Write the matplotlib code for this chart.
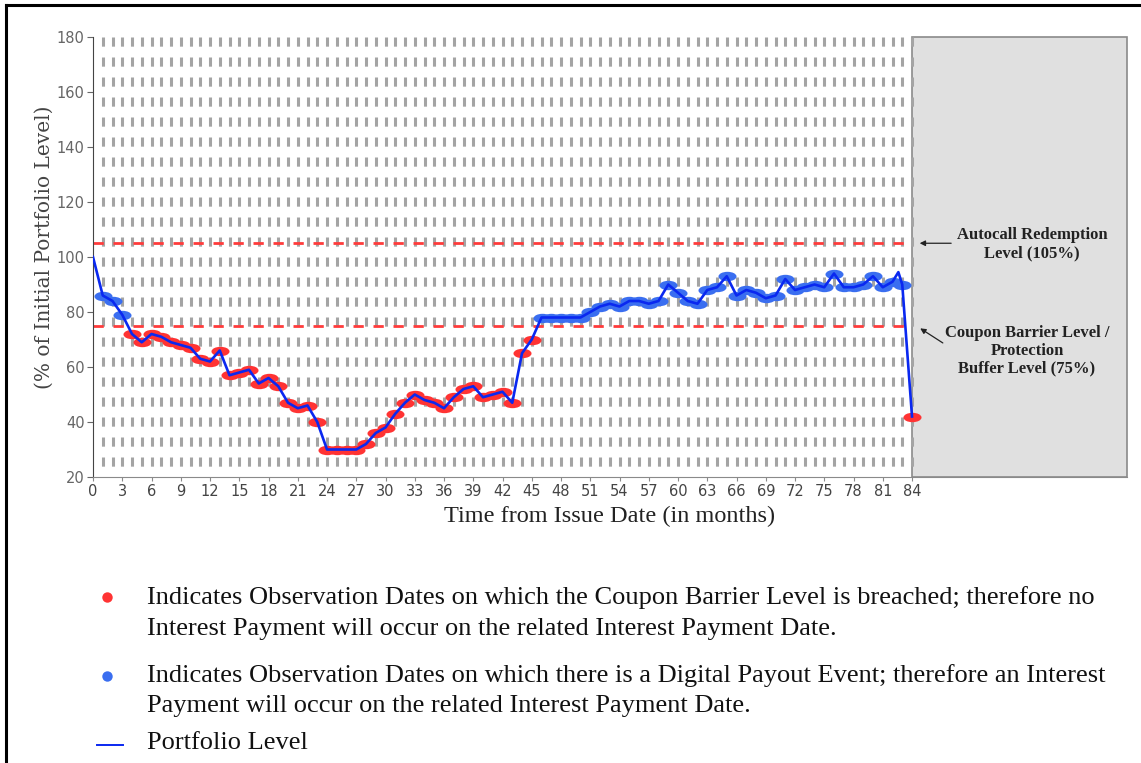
import numpy as np
import matplotlib
matplotlib.use('agg')
import matplotlib.pyplot as plt
from matplotlib.path import Path
from matplotlib.lines import Line2D
import matplotlib.transforms as mtrans

plt.rcParams['lines.scale_dashes'] = False

# observation levels (% of initial portfolio level), months 1..84
obs_months = list(range(1, 85))
obs_levels = [86, 84, 79, 72, 69, 72, 71, 69, 68, 67,
              63, 62, 66, 57, 58, 59, 54, 56, 53, 47,
              45, 46, 40, 30, 30, 30, 30, 32, 36, 38,
              43, 47, 50, 48, 47, 45, 49, 52, 53, 49,
              50, 51, 47, 65, 70, 78, 78, 78, 78, 78,
              80, 82, 83, 82, 84, 84, 83, 84, 90, 87,
              84, 83, 88, 89, 93, 86, 88, 87, 85, 86,
              92, 88, 89, 90, 89, 94, 89, 89, 90, 93,
              89, 91, 90, 42]
start_level = 100
peak_month, peak_level = 82.6, 94.5   # intramonth spike before maturity

barrier = 75
autocall = 105
maturity = 84
x_ticks = list(range(0, 85, 3))
y_ticks = list(range(20, 181, 20))

W, H = 1141, 763
fig = plt.figure(figsize=(W / 100, H / 100), dpi=100)
x0, x1, ytop, ybot = 93, 1127, 37, 477
ax = fig.add_axes([x0 / W, 1 - ybot / H, (x1 - x0) / W, (ybot - ytop) / H])

xmax = 106.05
ax.set_xlim(0, xmax)
ax.set_ylim(20, 180)

# shaded post-maturity region
ax.add_patch(plt.Rectangle((maturity, 20), xmax - maturity, 160, facecolor='#e0e0e0',
                           edgecolor='#8a8a8a', lw=1.2, zorder=0.5, clip_on=False))

# vertical dashed month lines
for m in obs_months:
    ax.plot([m, m], [180, 20], color='#a4a4a4', lw=2.2, dashes=(6.6, 7.8), zorder=1)

# barrier lines
for lvl in (autocall, barrier):
    ax.plot([0, maturity], [lvl, lvl], color='#ff3b3b', lw=2.0, dashes=(7.4, 7.0), zorder=1.5)

# ellipse markers
ell = Path.unit_circle().transformed(mtrans.Affine2D().scale(1, 0.52))
colors = ['#ff3333' if v < barrier else '#3a6ef0' for v in obs_levels]
for m, v, c in zip(obs_months, obs_levels, colors):
    ax.plot(m, v, marker=ell, ms=13, color=c, mec='none', ls='none', zorder=2)

# portfolio line
line_x = [0] + obs_months[:82] + [peak_month] + obs_months[82:]
line_y = [start_level] + obs_levels[:82] + [peak_level] + obs_levels[82:]
ax.plot(line_x, line_y, color='#0a28f0', lw=1.9, zorder=3)

for s in ('top', 'right'):
    ax.spines[s].set_visible(False)
ax.spines['left'].set_color('#444444')
ax.spines['bottom'].set_color('#8a8a8a')
ax.spines['bottom'].set_bounds(0, xmax)
ax.set_xticks(x_ticks)
ax.set_yticks(y_ticks)
ax.tick_params(axis='x', colors='#8a8a8a', labelcolor='#444444', length=3, pad=2, labelsize=10.5)
ax.tick_params(axis='y', colors='#666666', labelcolor='#666666', length=4, pad=2, labelsize=10.5)

ax.set_ylabel('(% of Initial Portfolio Level)', family='DejaVu Serif', fontsize=14.5,
              color='#444444')
ax.yaxis.set_label_coords(-0.038, 0.523)
ax.set_xlabel('Time from Issue Date (in months)', family='Liberation Serif', fontsize=17.5,
              color='#222222', labelpad=5)

# annotations
ann_font = dict(family='Liberation Serif', fontweight='bold', fontsize=12, color='#222222',
                ha='center', va='center', linespacing=1.15)
ax.annotate('', xy=(84.5, autocall), xytext=(88.3, autocall),
            arrowprops=dict(arrowstyle='-|>', color='#222222', lw=0.9, mutation_scale=8))
ax.text(96.3, 104.6, 'Autocall Redemption\nLevel (105%)', **ann_font)
ax.annotate('', xy=(84.6, 74.6), xytext=(87.4, 68.2),
            arrowprops=dict(arrowstyle='-|>', color='#222222', lw=0.9, mutation_scale=8))
ax.text(95.8, 65.8, 'Coupon Barrier Level /\nProtection\nBuffer Level (75%)', **ann_font)

# legend block below the chart
leg_font = dict(family='Liberation Serif', fontsize=19, color='#111111', va='center')
fig.text(147 / W, 1 - 598 / H, 'Indicates Observation Dates on which the Coupon Barrier Level is breached; therefore no', **leg_font)
fig.text(147 / W, 1 - 629 / H, 'Interest Payment will occur on the related Interest Payment Date.', **leg_font)
fig.text(147 / W, 1 - 676 / H, 'Indicates Observation Dates on which there is a Digital Payout Event; therefore an Interest', **leg_font)
fig.text(147 / W, 1 - 706 / H, 'Payment will occur on the related Interest Payment Date.', **leg_font)
fig.text(147 / W, 1 - 743 / H, 'Portfolio Level', **leg_font)
fig.add_artist(Line2D([107 / W], [1 - 597 / H], marker='o', ms=7.5, color='#ff3333', mec='none'))
fig.add_artist(Line2D([107 / W], [1 - 676 / H], marker='o', ms=7.5, color='#3a6ef0', mec='none'))
fig.add_artist(Line2D([97 / W, 123 / W], [1 - 745 / H, 1 - 745 / H], color='#0a28f0', lw=1.4))

# outer frame (top and left edges)
fig.add_artist(Line2D([6 / W, 1], [1 - 5 / H, 1 - 5 / H], color='black', lw=2.2))
fig.add_artist(Line2D([6 / W, 6 / W], [0, 1 - 5 / H], color='black', lw=2.2))

fig.savefig('out.png', dpi=100)
